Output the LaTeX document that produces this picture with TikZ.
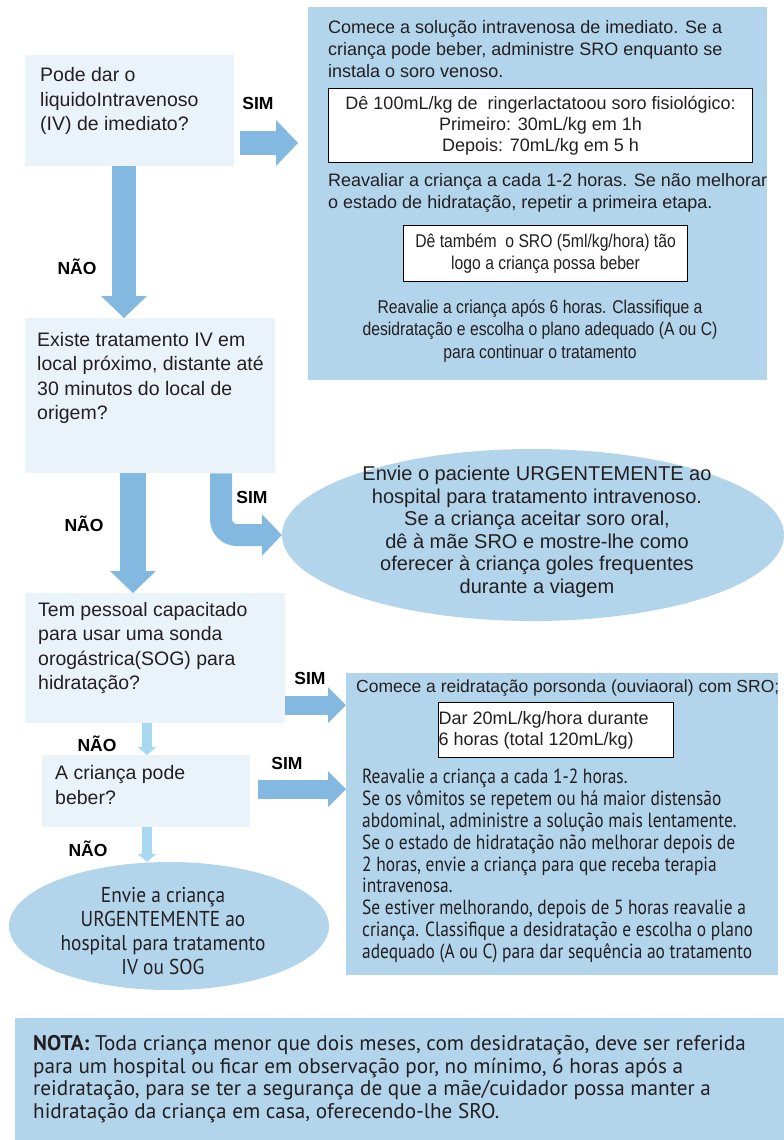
\documentclass[tikz,border=0pt]{standalone}
\usepackage{fontspec}
\setmainfont{Liberation Sans}
\newfontfamily\narrowfont[FakeStretch=0.85]{Liberation Sans}
\newfontfamily\myriadfont{PT Sans}
\newfontfamily\myriadnarrow[FakeStretch=0.85]{PT Sans}
\newfontfamily\myriadsemi[FakeStretch=0.9]{PT Sans}
\usetikzlibrary{shapes.geometric,arrows.meta}
\definecolor{boxlight}{HTML}{EBF3FA}
\definecolor{boxblue}{HTML}{B3D5EC}
\definecolor{arrowblue}{HTML}{83B9E1}
\definecolor{arrowlight}{HTML}{A8D8F2}
\definecolor{ink}{HTML}{231F20}

\begin{document}
\begin{tikzpicture}[x=1pt,y=-1pt,
qbox/.style={rectangle,fill=boxlight,anchor=north west,inner sep=0pt},
bigbox/.style={rectangle,fill=boxblue,anchor=north west,inner sep=0pt},
whitebox/.style={rectangle,draw=black,fill=white,line width=1.2pt,
anchor=north west,inner sep=0pt,text=ink},
oval/.style={ellipse,fill=boxblue,inner sep=0pt},
qtext/.style={anchor=west,align=left,inner sep=0pt,text=ink,
font=\fontsize{19.5}{24.5}\selectfont},
answer/.style={inner sep=0pt,text=black,font=\bfseries\fontsize{17.5}{17.5}\selectfont},
bigarrow/.style={draw=arrowblue,line width=24pt,
-{Triangle[length=22pt,width=46pt,line width=0pt]}},
midarrow/.style={draw=arrowblue,line width=19pt,
-{Triangle[length=18pt,width=36pt,line width=0pt]}},
thinarrow/.style={draw=arrowlight,line width=10pt,
-{Triangle[length=8pt,width=19pt,line width=0pt]}}]
\useasboundingbox (0,0) rectangle (784,1140);

\node[qbox,minimum width=209pt,minimum height=111pt] (q1) at (25,55) {};
\node[qtext] (q1txt) at (40,101) {Pode dar o\\liquidoIntravenoso\\(IV) de imediato?};

\node[bigbox,minimum width=459pt,minimum height=373pt] (a1) at (308,7) {};
\node[anchor=west,align=left,inner sep=0pt,text=ink,
font=\fontsize{18}{22}\selectfont] (a1txt) at (328,49)
{Comece a solução intravenosa de imediato. Se a\\
criança pode beber, administre SRO enquanto se\\
instala o soro venoso.};
\node[whitebox,minimum width=424pt,minimum height=74pt,align=center,
font=\fontsize{18}{21}\selectfont] (dose) at (328,88)
{Dê 100mL/kg de \ ringerlactatoou soro fisiológico:\\
Primeiro: 30mL/kg em 1h\\
Depois: 70mL/kg em 5 h};
\node[anchor=west,align=left,inner sep=0pt,text=ink,
font=\fontsize{18}{22}\selectfont] (a1rev) at (328,193)
{Reavaliar a criança a cada 1-2 horas. Se não melhorar\\
o estado de hidratação, repetir a primeira etapa.};
\node[whitebox,minimum width=284pt,minimum height=56pt,align=center,
font=\narrowfont\fontsize{18.5}{21.5}\selectfont] (sro) at (403,225)
{Dê também \ o SRO (5ml/kg/hora) tão\\logo a criança possa beber};
\node[align=center,inner sep=0pt,text=ink,
font=\narrowfont\fontsize{18.5}{22.5}\selectfont] (a1end) at (540,331)
{Reavalie a criança após 6 horas. Classifique a\\
desidratação e escolha o plano adequado (A ou C)\\
para continuar o tratamento};

\node[qbox,minimum width=250pt,minimum height=155pt] (q2) at (25,318) {};
\node[qtext] (q2txt) at (37,378) {Existe tratamento IV em\\local próximo, distante até\\
30 minutos do local de\\origem?};

\node[oval,minimum width=502pt,minimum height=172pt] (e1) at (533,535) {};
\node[align=center,inner sep=0pt,text=ink,
font=\fontsize{20}{22.5}\selectfont] (e1txt) at (537,532)
{Envie o paciente URGENTEMENTE ao\\
hospital para tratamento intravenoso.\\
Se a criança aceitar soro oral,\\
dê à mãe SRO e mostre-lhe como\\
oferecer à criança goles frequentes\\
durante a viagem};

\node[qbox,minimum width=260pt,minimum height=130pt] (q3) at (25,593) {};
\node[qtext] (q3txt) at (38,648) {Tem pessoal capacitado\\para usar uma sonda\\
orogástrica(SOG) para\\hidratação?};

\node[qbox,minimum width=208pt,minimum height=72pt] (q4) at (42,755) {};
\node[qtext] (q4txt) at (55,785) {A criança pode\\beber?};

\node[bigbox,minimum width=432pt,minimum height=302pt] (a2) at (346,673) {};
\node[anchor=west,inner sep=0pt,text=ink,
font=\fontsize{17.5}{21}\selectfont] (a2txt) at (356,688)
{Comece a reidratação porsonda (ouviaoral) com SRO;};
\node[whitebox,minimum width=232pt,minimum height=55pt,align=left,
font=\fontsize{18}{20.5}\selectfont] (dar) at (438,702)
{Dar 20mL/kg/hora durante\\6 horas (total 120mL/kg)\hspace*{40pt}};
\node[anchor=west,align=left,inner sep=0pt,text=ink,
font=\myriadnarrow\fontsize{20.5}{21.9}\selectfont] (a2end) at (362,866)
{Reavalie a criança a cada 1-2 horas.\\
Se os vômitos se repetem ou há maior distensão\\
abdominal, administre a solução mais lentamente.\\
Se o estado de hidratação não melhorar depois de\\
2 horas, envie a criança para que receba terapia\\
intravenosa.\\
Se estiver melhorando, depois de 5 horas reavalie a\\
criança. Classifique a desidratação e escolha o plano\\
adequado (A ou C) para dar sequência ao tratamento};

\node[oval,minimum width=320pt,minimum height=128pt] (e2) at (169,926) {};
\node[align=center,inner sep=0pt,text=ink,
font=\myriadsemi\fontsize{21.5}{24}\selectfont] (e2txt) at (163,931)
{Envie a criança\\URGENTEMENTE ao\\hospital para tratamento\\IV ou SOG};

\node[bigbox,minimum width=769pt,minimum height=122pt] (nota) at (15,1018) {};
\node[anchor=west,align=left,inner sep=0pt,text=ink,
font=\myriadfont\fontsize{21.2}{22.7}\selectfont] (notatxt) at (33,1079)
{\textbf{NOTA:} Toda criança menor que dois meses, com desidratação, deve ser referida\\
para um hospital ou ficar em observação por, no mínimo, 6 horas após a\\
reidratação, para se ter a segurança de que a mãe/cuidador possa manter a\\
hidratação da criança em casa, oferecendo-lhe SRO.};

\draw[bigarrow,shorten <=6pt,shorten >=10pt] (q1.east |- 0,143) -- (a1.west |- 0,143);
\draw[bigarrow] (q1.south -| 124,0) -- (q2.north -| 124,0);
\draw[bigarrow,line width=22pt,rounded corners=16pt,
-{Triangle[length=20pt,width=42pt,line width=0pt]}] (q2.south -| 221,0) |- (e1.west);
\draw[bigarrow,line width=26pt] (q2.south -| 133,0) -- (q3.north -| 133,0);
\draw[midarrow] (q3.east |- 0,705) -- (a2.west |- 0,705);
\draw[midarrow,shorten <=8pt] (q4.east |- 0,789) -- (a2.west |- 0,789);
\draw[thinarrow] (q3.south -| 147,0) -- (q4.north -| 147,0);
\draw[thinarrow] (q4.south -| 147,0) -- (e2.north -| 147,0);

\node[answer] (sim1) at (258,103) {SIM};
\node[answer] (nao1) at (77,267) {NÃO};
\node[answer] (sim2) at (252,497) {SIM};
\node[answer] (nao2) at (84,524) {NÃO};
\node[answer] (sim3) at (310,678) {SIM};
\node[answer] (nao3) at (97,744) {NÃO};
\node[answer] (sim4) at (287,763) {SIM};
\node[answer] (nao4) at (88,849) {NÃO};
\end{tikzpicture}
\end{document}
